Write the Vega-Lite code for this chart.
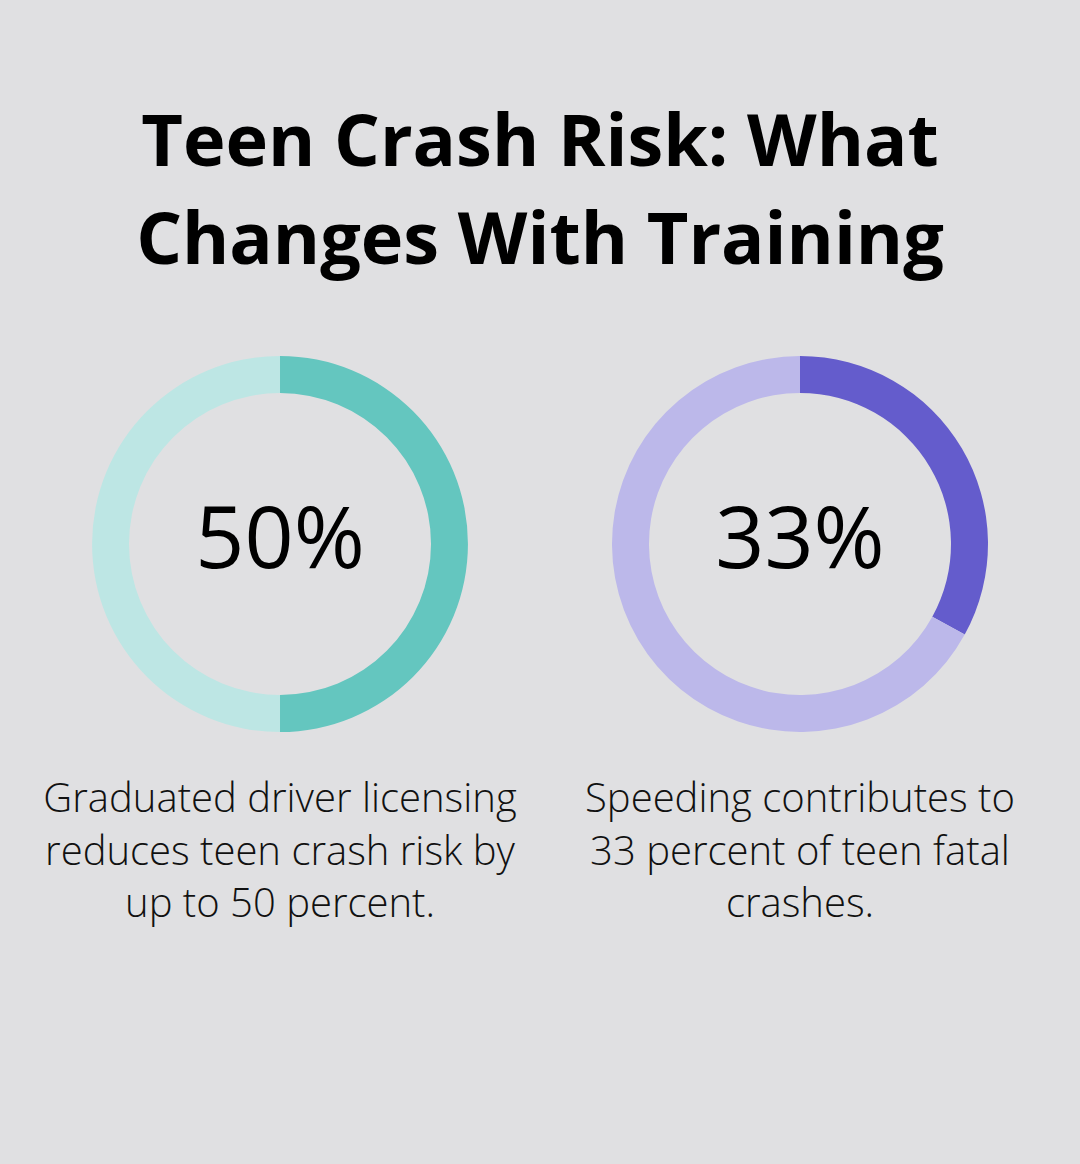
{
  "$schema": "https://vega.github.io/schema/vega-lite/v6.json",
  "width": 1080,
  "height": 508,
  "autosize": {"type": "none"},
  "padding": {"top": 290, "bottom": 366, "left": 0, "right": 0},
  "background": "#e0e0e2",
  "config": {"view": {"stroke": null}, "font": "Open Sans"},
  "title": {
    "text": ["Teen Crash Risk: What", "Changes With Training"],
    "anchor": "middle",
    "frame": "group",
    "fontSize": 72,
    "fontWeight": "bold",
    "font": "Open Sans",
    "color": "#000000",
    "lineHeight": 98,
    "offset": 11
  },
  "datasets": {
    "rings": [
      {"stat": "Graduated driver licensing", "segment": "GDL share", "start": 0, "end": 50},
      {"stat": "Graduated driver licensing", "segment": "GDL rest", "start": 50, "end": 100},
      {"stat": "Speeding", "segment": "Speeding share", "start": 0, "end": 33},
      {"stat": "Speeding", "segment": "Speeding rest", "start": 33, "end": 100}
    ],
    "labels": [
      {"stat": "Graduated driver licensing", "value": "50%", "caption": "Graduated driver licensing\nreduces teen crash risk by\nup to 50 percent."},
      {"stat": "Speeding", "value": "33%", "caption": "Speeding contributes to\n33 percent of teen fatal\ncrashes."}
    ]
  },
  "encoding": {
    "x": {
      "field": "stat",
      "type": "nominal",
      "axis": null,
      "scale": {"type": "point", "domain": ["Graduated driver licensing", "Speeding"], "padding": 0.5385}
    }
  },
  "layer": [
    {
      "data": {"name": "rings"},
      "mark": {"type": "arc", "outerRadius": 188, "innerRadius": 151},
      "encoding": {
        "theta": {"field": "start", "type": "quantitative", "scale": {"domain": [0, 100], "range": [0, 6.283185307]}},
        "theta2": {"field": "end"},
        "color": {
          "field": "segment",
          "type": "nominal",
          "legend": null,
          "scale": {
            "domain": ["GDL share", "GDL rest", "Speeding share", "Speeding rest"],
            "range": ["#64c6bf", "#bde6e4", "#645ccc", "#bcb8ea"]
          }
        }
      }
    },
    {
      "data": {"name": "labels"},
      "mark": {"type": "text", "fontSize": 86, "font": "Open Sans", "fontWeight": 500, "color": "#000000", "align": "center", "baseline": "alphabetic", "dy": 24},
      "encoding": {"text": {"field": "value"}}
    },
    {
      "data": {"name": "labels"},
      "mark": {"type": "text", "fontSize": 40, "font": "Open Sans", "fontWeight": 300, "color": "#111111", "align": "center", "baseline": "alphabetic", "dy": 268, "lineBreak": "\n", "lineHeight": 52.5},
      "encoding": {"text": {"field": "caption"}}
    }
  ]
}
